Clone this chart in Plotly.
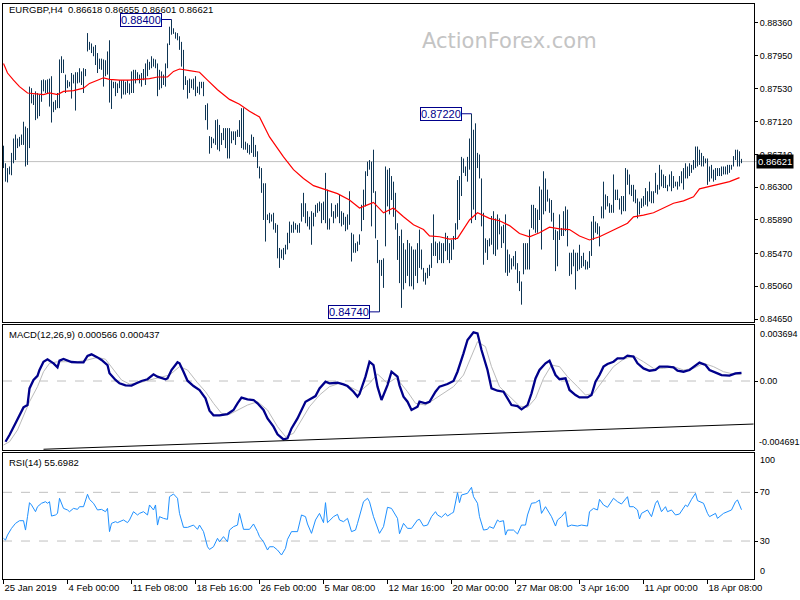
import plotly.graph_objects as go

# ---------------- data ----------------
symbol = "EURGBP,H4"
last_ohlc = [0.86618, 0.86655, 0.86601, 0.86621]

highs = [
    .8682, .8660, .8654, .8656, .8673, .8691, .8696, .8691, .8693, .8696,
    .8712, .8706, .8704, .8756, .8754, .8746, .8750, .8748, .8746, .8764,
    .8765, .8764, .8765, .8766, .8769, .8737, .8739, .8748, .8790, .8794,
    .8790, .8771, .8764, .8762, .8773, .8771, .8774, .8774, .8779, .8775,
    .8779, .8778, .8823, .8812, .8810, .8806, .8808, .8798, .8791, .8791,
    .8790, .8789, .8800, .8814, .8764, .8762, .8762, .8760, .8764, .8764,
    .8764, .8762, .8764, .8760, .8775, .8777, .8777, .8774, .8771, .8773,
    .8778, .8785, .8790, .8787, .8794, .8791, .8790, .8785, .8777, .8775,
    .8771, .8785, .8810, .8831, .8840, .8829, .8824, .8823, .8819, .8812,
    .8802, .8769, .8764, .8766, .8765, .8766, .8769, .8756, .8762, .8762,
    .8762, .8733, .8735, .8694, .8693, .8691, .8714, .8715, .8708, .8698,
    .8704, .8704, .8704, .8704, .8700, .8700, .8700, .8702, .8714, .8729,
    .8729, .8687, .8685, .8683, .8696, .8693, .8683, .8675, .8656, .8654,
    .8635, .8635, .8596, .8598, .8596, .8598, .8585, .8583, .8554, .8552,
    .8554, .8558, .8573, .8587, .8583, .8587, .8585, .8583, .8585, .8610,
    .8623, .8610, .8600, .8593, .8600, .8598, .8608, .8610, .8612, .8610,
    .8612, .8648, .8627, .8591, .8610, .8600, .8608, .8610, .8621, .8600,
    .8598, .8593, .8596, .8625, .8573, .8571, .8560, .8562, .8571, .8608,
    .8627, .8650, .8662, .8664, .8662, .8677, .8625, .8564, .8539, .8539,
    .8541, .8656, .8652, .8654, .8644, .8637, .8623, .8585, .8569, .8577,
    .8560, .8552, .8564, .8560, .8556, .8552, .8552, .8560, .8577, .8552,
    .8529, .8523, .8529, .8533, .8560, .8596, .8562, .8560, .8562, .8560,
    .8560, .8573, .8569, .8560, .8564, .8569, .8585, .8639, .8644, .8668,
    .8666, .8656, .8668, .8691, .8722, .8702, .8710, .8673, .8671, .8641,
    .8598, .8566, .8564, .8566, .8594, .8600, .8591, .8596, .8591, .8581,
    .8583, .8596, .8552, .8546, .8541, .8544, .8550, .8535, .8525, .8512,
    .8560, .8560, .8560, .8577, .8608, .8608, .8604, .8602, .8631, .8627,
    .8650, .8641, .8627, .8616, .8614, .8598, .8577, .8575, .8596, .8579,
    .8600, .8606, .8602, .8548, .8548, .8552, .8548, .8548, .8558, .8544,
    .8548, .8539, .8537, .8550, .8587, .8594, .8587, .8585, .8581, .8606,
    .8637, .8621, .8619, .8610, .8608, .8646, .8627, .8627, .8616, .8619,
    .8619, .8654, .8652, .8646, .8633, .8633, .8627, .8616, .8612, .8616,
    .8619, .8629, .8625, .8637, .8625, .8625, .8648, .8633, .8658, .8652,
    .8646, .8644, .8633, .8646, .8650, .8644, .8637, .8637, .8644, .8650,
    .8654, .8660, .8656, .8660, .8658, .8664, .8681, .8681, .8677, .8673,
    .8669, .8666, .8666, .8656, .8658, .8652, .8654, .8654, .8654, .8656,
    .8656, .8656, .8658, .8658, .8658, .8669, .8677, .8677, .8675, .86655,
]

lows = [
    .8654, .8637, .8636, .8646, .8645, .8660, .8664, .8679, .8681, .8683,
    .8683, .8656, .8658, .8679, .8735, .8733, .8714, .8716, .8719, .8737,
    .8750, .8748, .8748, .8731, .8711, .8724, .8727, .8729, .8729, .8773,
    .8773, .8748, .8754, .8756, .8741, .8760, .8726, .8760, .8761, .8758,
    .8748, .8769, .8800, .8802, .8798, .8794, .8783, .8773, .8778, .8777,
    .8756, .8769, .8771, .8736, .8728, .8754, .8744, .8748, .8754, .8741,
    .8746, .8746, .8748, .8746, .8748, .8748, .8760, .8764, .8760, .8756,
    .8764, .8758, .8769, .8777, .8779, .8781, .8779, .8744, .8752, .8754,
    .8758, .8756, .8779, .8808, .8821, .8822, .8816, .8814, .8802, .8781,
    .8752, .8758, .8741, .8748, .8754, .8752, .8744, .8748, .8746, .8754,
    .8744, .8714, .8702, .8672, .8679, .8685, .8683, .8677, .8675, .8683,
    .8689, .8679, .8666, .8666, .8685, .8689, .8683, .8693, .8693, .8679,
    .8677, .8677, .8673, .8671, .8673, .8668, .8668, .8654, .8641, .8623,
    .8589, .8562, .8589, .8585, .8587, .8577, .8573, .8541, .8529, .8541,
    .8539, .8546, .8552, .8560, .8573, .8573, .8577, .8573, .8573, .8587,
    .8593, .8585, .8581, .8577, .8558, .8581, .8593, .8598, .8600, .8585,
    .8589, .8585, .8577, .8577, .8593, .8585, .8591, .8593, .8585, .8581,
    .8583, .8575, .8577, .8583, .8537, .8548, .8548, .8550, .8558, .8575,
    .8589, .8606, .8644, .8652, .8581, .8623, .8566, .8535, .8474, .8519,
    .8504, .8556, .8606, .8596, .8614, .8593, .8577, .8539, .8510, .8479,
    .8502, .8510, .8519, .8506, .8506, .8502, .8519, .8510, .8529, .8527,
    .8512, .8508, .8516, .8519, .8529, .8544, .8544, .8535, .8539, .8535,
    .8535, .8550, .8539, .8535, .8539, .8552, .8564, .8577, .8589, .8619,
    .8648, .8644, .8637, .8652, .8585, .8602, .8589, .8654, .8641, .8581,
    .8533, .8548, .8539, .8556, .8558, .8546, .8544, .8552, .8571, .8554,
    .8560, .8523, .8519, .8523, .8527, .8531, .8527, .8510, .8500, .8483,
    .8521, .8527, .8527, .8527, .8579, .8577, .8573, .8573, .8589, .8552,
    .8596, .8600, .8612, .8598, .8587, .8564, .8525, .8531, .8564, .8569,
    .8569, .8575, .8556, .8519, .8521, .8531, .8502, .8525, .8527, .8529,
    .8531, .8527, .8527, .8529, .8544, .8564, .8573, .8571, .8556, .8591,
    .8591, .8602, .8606, .8598, .8598, .8598, .8614, .8614, .8602, .8596,
    .8600, .8600, .8633, .8621, .8619, .8612, .8610, .8591, .8596, .8604,
    .8606, .8608, .8606, .8612, .8610, .8610, .8623, .8621, .8627, .8631,
    .8629, .8629, .8625, .8631, .8625, .8629, .8631, .8627, .8631, .8635,
    .8627, .8641, .8641, .8644, .8648, .8652, .8654, .8656, .8658, .8656,
    .8656, .8660, .8633, .8637, .8641, .8637, .8639, .8644, .8644, .8644,
    .8646, .8646, .8646, .8648, .8652, .8656, .8664, .8656, .8656, .86601,
]

ma_idx = [0, 2, 5, 8, 12, 15, 20, 23, 27, 30, 35, 40, 43, 47, 50, 53, 58, 63, 68, 73,
          77, 82, 85, 88, 93, 98, 102, 107, 113, 118, 123, 128, 133, 140, 145, 150, 155,
          160, 167, 173, 178, 182, 185, 190, 195, 200, 205, 210, 213, 218, 223, 227, 230,
          233, 237, 240, 243, 248, 253, 258, 263, 268, 273, 278, 283, 288, 293, 298, 302,
          307, 312, 315, 320, 325, 330, 335, 340, 345, 348, 353, 358, 363, 368]
ma_val = [.8785, .8773, .8764, .8756, .8748, .8747, .8746, .8748, .8746, .8750, .8751,
          .8754, .8760, .8764, .8767, .8765, .8764, .8764, .8765, .8766, .8768, .8768,
          .8775, .8778, .8776, .8774, .8764, .8752, .8740, .8734, .8725, .8718, .8693,
          .8668, .8652, .8641, .8632, .8628, .8622, .8614, .8604, .8608, .8611, .8598,
          .8604, .8593, .8583, .8577, .8569, .8568, .8565, .8566, .8577, .8589, .8598,
          .8594, .8591, .8588, .8582, .8572, .8568, .8573, .8580, .8578, .8577, .8569,
          .8564, .8568, .8573, .8579, .8585, .8593, .8595, .8598, .8604, .8610, .8613,
          .8618, .8628, .8631, .8634, .8637, .8642]

macd_idx = [1, 3, 6, 8, 10, 12, 13, 15, 17, 18, 20, 22, 23, 25, 27, 28, 30, 32, 34, 37,
            40, 42, 44, 47, 49, 52, 53, 56, 58, 61, 64, 67, 69, 72, 75, 77, 81, 82, 84, 87,
            88, 90, 92, 95, 98, 101, 103, 105, 108, 112, 115, 117, 119, 122, 125, 127, 130,
            132, 135, 137, 140, 142, 144, 147, 149, 151, 153, 156, 158, 161, 163, 167, 170,
            172, 175, 177, 178, 181, 183, 185, 187, 189, 192, 194, 197, 198, 200, 202, 204,
            207, 208, 211, 213, 216, 218, 222, 225, 227, 230, 232, 235, 237, 239, 242, 244,
            247, 250, 252, 254, 257, 259, 262, 264, 266, 268, 271, 273, 276, 278, 281, 283,
            286, 288, 292, 294, 296, 298, 300, 302, 305, 307, 310, 312, 315, 317, 320, 323,
            326, 328, 332, 335, 337, 340, 343, 346, 348, 351, 353, 357, 359, 363, 366, 369]
macd_val = [-.00419, -.00373, -.00292, -.00235, -.00182, -.00166, -.00051, .00007, .00035,
            .00076, .00133, .00150, .00140, .00122, .00094, .00140, .00152, .00140, .00131,
            .00129, .00129, .00173, .00184, .00163, .00145, .00110, .00053, .00007, -.00016,
            -.00030, -.00032, -.00012, .00000, .00012, .00046, .00030, .00012, .00018, .00076,
            .00129, .00122, .00064, .00002, -.00035, -.00062, -.00120, -.00205, -.00237,
            -.00237, -.00228, -.00200, -.00154, -.00115, -.00127, -.00131, -.00154, -.00200,
            -.00258, -.00315, -.00368, -.00403, -.00396, -.00327, -.00258, -.00196, -.00143,
            -.00127, -.00104, -.00051, -.00005, -.00016, -.00012, -.00023, -.00035, -.00074,
            -.00108, -.00090, .00030, .00133, .00110, -.00039, -.00131, -.00028, .00064,
            .00030, -.00030, -.00108, -.00143, -.00200, -.00177, -.00143, -.00154, -.00143,
            -.00074, -.00039, -.00021, .00000, .00064, .00191, .00283, .00336, .00329, .00214,
            .00076, -.00051, -.00067, -.00074, -.00120, -.00166, -.00173, -.00196, -.00166,
            -.00085, .00018, .00076, .00122, .00140, .00041, .00012, .00018, -.00062, -.00097,
            -.00113, -.00113, -.00097, -.00005, .00041, .00099, .00117, .00133, .00156, .00156,
            .00175, .00168, .00122, .00087, .00071, .00076, .00099, .00099, .00094, .00071,
            .00064, .00076, .00110, .00127, .00110, .00076, .00053, .00041, .00037, .00053,
            .000566]

sig_idx = [0, 3, 7, 10, 13, 17, 20, 23, 27, 32, 37, 42, 47, 51, 55, 59, 63, 68, 73, 78, 83,
           88, 92, 97, 101, 105, 109, 113, 117, 122, 127, 132, 137, 141, 145, 149, 153, 158,
           163, 168, 173, 178, 183, 187, 192, 196, 198, 202, 206, 211, 215, 220, 225, 230,
           233, 237, 241, 244, 248, 253, 258, 262, 266, 270, 274, 278, 282, 287, 291, 295,
           300, 305, 310, 315, 320, 325, 330, 335, 340, 345, 350, 355, 360, 365, 369]
sig_val = [-.00442, -.00419, -.00338, -.00246, -.00143, -.00039, .00064, .00122, .00133,
           .00133, .00133, .00145, .00163, .00150, .00076, .00007, -.00021, -.00012, .00007,
           .00025, .00041, .00099, .00076, -.00012, -.00074, -.00154, -.00223, -.00230,
           -.00200, -.00166, -.00143, -.00200, -.00315, -.00384, -.00361, -.00269, -.00177,
           -.00097, -.00039, -.00016, -.00039, -.00074, -.00016, .00048, -.00016, .00018,
           -.00005, -.00074, -.00154, -.00166, -.00131, -.00085, -.00039, .00041, .00145,
           .00271, .00237, .00099, -.00039, -.00108, -.00173, -.00182, -.00120, .00018,
           .00110, .00099, .00030, -.00039, -.00097, -.00085, .00007, .00099, .00150, .00173,
           .00133, .00087, .00087, .00099, .00076, .00087, .00122, .00099, .00064, .00048,
           .000437]

rsi_idx = [0, 1, 2, 4, 6, 8, 10, 11, 12, 13, 14, 16, 17, 19, 21, 22, 23, 24, 26, 27, 28,
           30, 32, 33, 35, 37, 38, 40, 42, 43, 45, 47, 49, 51, 52, 53, 54, 56, 57, 60, 62,
           63, 65, 67, 68, 70, 72, 73, 75, 76, 77, 78, 80, 82, 83, 85, 87, 88, 90, 92, 95,
           97, 98, 100, 102, 103, 105, 107, 108, 110, 112, 113, 115, 117, 118, 120, 123,
           125, 127, 128, 130, 132, 133, 135, 137, 139, 141, 142, 144, 147, 149, 151, 152,
           154, 156, 158, 160, 161, 162, 165, 167, 168, 170, 172, 174, 176, 177, 180, 182,
           183, 185, 187, 188, 190, 192, 194, 197, 198, 200, 202, 204, 207, 208, 210, 212,
           214, 216, 217, 219, 221, 222, 224, 225, 227, 228, 229, 232, 234, 235, 237, 238,
           240, 242, 243, 245, 247, 248, 250, 251, 252, 255, 257, 259, 261, 262, 264, 266,
           268, 269, 271, 272, 274, 276, 277, 279, 281, 282, 284, 287, 289, 292, 293, 295,
           297, 298, 300, 302, 305, 307, 309, 312, 313, 315, 317, 318, 319, 322, 324, 326,
           327, 329, 331, 332, 334, 336, 338, 341, 342, 344, 346, 347, 350, 352, 353, 356,
           357, 360, 362, 364, 366, 367, 369]
rsi_val = [32.2, 30.8, 34.9, 40.4, 44.5, 46.7, 46.7, 39.0, 50.0, 61.5, 59.6, 54.1, 58.2,
           61.0, 62.3, 61.0, 62.3, 50.5, 51.4, 52.7, 65.1, 56.8, 55.5, 54.1, 56.8, 56.0,
           58.2, 58.2, 68.4, 64.2, 61.0, 55.5, 56.0, 54.1, 56.8, 37.7, 44.5, 45.9, 45.1,
           47.3, 45.1, 47.3, 54.1, 51.4, 52.7, 54.1, 51.4, 59.6, 55.5, 59.6, 43.1, 50.0,
           48.6, 47.8, 66.4, 68.6, 65.1, 52.7, 41.2, 41.2, 43.1, 39.6, 43.1, 37.7, 25.3,
           23.1, 25.3, 32.2, 29.4, 33.6, 29.4, 39.0, 41.8, 43.1, 52.7, 39.6, 39.6, 44.0,
           37.7, 33.6, 29.4, 22.6, 25.3, 25.3, 22.6, 18.5, 24.0, 31.4, 37.7, 37.7, 51.4,
           50.0, 44.0, 36.3, 47.3, 52.7, 45.1, 61.5, 45.1, 50.0, 51.9, 47.3, 45.9, 48.6,
           37.7, 39.0, 44.5, 62.3, 65.1, 62.3, 50.0, 40.4, 36.3, 41.8, 57.7, 56.8, 48.6,
           36.0, 44.5, 40.4, 40.4, 47.3, 47.8, 42.3, 43.1, 50.0, 54.1, 51.4, 49.5, 52.7,
           50.5, 52.7, 53.6, 69.7, 61.5, 67.8, 69.2, 74.1, 66.4, 61.0, 50.0, 39.0, 39.6,
           41.8, 40.4, 47.3, 45.9, 46.7, 34.9, 39.0, 39.0, 35.8, 43.1, 43.1, 51.4, 61.0,
           61.5, 63.7, 52.7, 58.2, 55.5, 50.0, 42.3, 47.3, 50.0, 54.1, 41.8, 43.1, 42.3,
           43.1, 42.3, 54.1, 56.8, 55.5, 64.2, 59.6, 57.7, 65.1, 62.3, 60.4, 66.4, 58.2,
           58.2, 55.5, 48.1, 52.7, 55.5, 50.0, 61.0, 63.2, 54.1, 58.2, 54.1, 55.5, 51.4,
           52.2, 59.6, 58.2, 64.2, 69.2, 63.2, 61.0, 52.7, 50.0, 52.7, 48.6, 52.7, 54.1,
           55.5, 62.3, 63.7, 55.6982]

trend_idx = [20, 375]
trend_val = [-0.00471, -0.00297]

price_ticks = [0.88360, 0.87950, 0.87530, 0.87120, 0.86710, 0.86300, 0.85890, 0.85470, 0.85060, 0.84650]
macd_top, macd_bottom = 0.003694, -0.004691
rsi_levels = [70, 30]
rsi_edges = [100, 0]
time_tick_idx = [0, 32, 64, 96, 128, 160, 192, 224, 256, 288, 320, 352]
time_labels = ["25 Jan 2019", "4 Feb 00:00", "11 Feb 08:00", "18 Feb 16:00", "26 Feb 00:00",
               "5 Mar 08:00", "12 Mar 16:00", "20 Mar 00:00", "27 Mar 08:00", "3 Apr 16:00",
               "11 Apr 00:00", "18 Apr 08:00"]
macd_name, macd_last, signal_last = "MACD(12,26,9)", 0.000566, 0.000437
rsi_name, rsi_last = "RSI(14)", 55.6982
watermark = "ActionForex.com"

# ---------------- styling ----------------
W, H = 800, 600
FONT = "Liberation Sans, Arial, sans-serif"
BAR_C = "#0E3554"
NAVY = "#00008B"
GRAY = "#C0C0C0"

def py(p):
    return 1 - p / H

X_DOM = [3 / W, 754 / W]
X_RANGE = [-0.25, 375.25]

fig = go.Figure()

# price bars (high-low)
bx, by = [], []
for i, (h, l) in enumerate(zip(highs, lows)):
    bx += [i, i, None]
    by += [l, h, None]
fig.add_trace(go.Scatter(x=bx, y=by, mode="lines", line=dict(color=BAR_C, width=1),
                         xaxis="x", yaxis="y", hoverinfo="skip"))
fig.add_trace(go.Scatter(x=ma_idx, y=ma_val, mode="lines", line=dict(color="#FF0000", width=1.2),
                         xaxis="x", yaxis="y"))

# MACD
fig.add_trace(go.Scatter(x=sig_idx, y=sig_val, mode="lines", line=dict(color="#BBBBBB", width=1),
                         xaxis="x2", yaxis="y2"))
fig.add_trace(go.Scatter(x=macd_idx, y=macd_val, mode="lines", line=dict(color=NAVY, width=2.3),
                         xaxis="x2", yaxis="y2"))
fig.add_trace(go.Scatter(x=trend_idx, y=trend_val, mode="lines", line=dict(color="black", width=1),
                         xaxis="x2", yaxis="y2"))

# RSI
fig.add_trace(go.Scatter(x=rsi_idx, y=rsi_val, mode="lines", line=dict(color="#1E90FF", width=1),
                         xaxis="x3", yaxis="y3"))

axis_common = dict(showgrid=False, zeroline=False, showline=True, mirror=True,
                   linecolor="black", linewidth=1, automargin=False)
tickfont = dict(family=FONT, size=9, color="black")

fig.update_layout(
    width=W, height=H, margin=dict(l=0, r=0, t=0, b=0, autoexpand=False),
    paper_bgcolor="white", plot_bgcolor="white", showlegend=False,
    xaxis=dict(domain=X_DOM, range=X_RANGE, anchor="y", showticklabels=False, ticks="", **axis_common),
    xaxis2=dict(domain=X_DOM, range=X_RANGE, anchor="y2", matches="x", showticklabels=False, ticks="", **axis_common),
    xaxis3=dict(domain=X_DOM, range=X_RANGE, anchor="y3", matches="x", tickvals=time_tick_idx,
                ticktext=time_labels, ticks="outside", ticklen=4, tickcolor="black", tickangle=0,
                ticklabelposition="outside right", tickfont=dict(family=FONT, size=9.5, color="black"),
                **axis_common),
    yaxis=dict(domain=[py(322), py(4)], range=[0.84613, 0.88594], side="right", anchor="x",
               tickvals=price_ticks, ticktext=[f"{v:.5f}" for v in price_ticks],
               ticks="outside", ticklen=3, tickcolor="black", tickfont=tickfont, **axis_common),
    yaxis2=dict(domain=[py(450), py(325)], range=[-0.004761, 0.003864], side="right", anchor="x2",
                tickvals=[0], ticktext=["0.00"], ticks="outside", ticklen=3, tickcolor="black",
                tickfont=tickfont, **axis_common),
    yaxis3=dict(domain=[py(579), py(453)], range=[-1.2, 102.3], side="right", anchor="x3",
                tickvals=rsi_levels, ticktext=[str(v) for v in rsi_levels], ticks="outside",
                ticklen=3, tickcolor="black", tickfont=tickfont, **axis_common),
)

shapes = [
    dict(type="line", xref="paper", x0=X_DOM[0], x1=757 / W, yref="y", y0=last_ohlc[3], y1=last_ohlc[3],
         line=dict(color=GRAY, width=1), layer="below"),
    dict(type="line", xref="paper", x0=X_DOM[0], x1=X_DOM[1], yref="y2", y0=0, y1=0,
         line=dict(color=GRAY, width=1, dash="dash"), layer="below"),
]
for lv in rsi_levels:
    shapes.append(dict(type="line", xref="paper", x0=X_DOM[0], x1=X_DOM[1], yref="y3", y0=lv, y1=lv,
                       line=dict(color=GRAY, width=1, dash="dash"), layer="below"))
fig.update_layout(shapes=shapes)

ann = []
# header texts
hdr = symbol + "\u00a0\u00a0" + " ".join(f"{v:.5f}" for v in last_ohlc)
ann.append(dict(text=hdr, xref="paper", yref="paper", x=7 / W, y=py(9), xanchor="left", yanchor="middle",
                showarrow=False, font=dict(family=FONT, size=9.5, color="black")))
ann.append(dict(text=f"{macd_name} {macd_last:.6f} {signal_last:.6f}", xref="paper", yref="paper",
                x=7 / W, y=py(334), xanchor="left", yanchor="middle", showarrow=False,
                font=dict(family=FONT, size=9.5, color="black")))
ann.append(dict(text=f"{rsi_name} {rsi_last:.4f}", xref="paper", yref="paper",
                x=7 / W, y=py(463), xanchor="left", yanchor="middle", showarrow=False,
                font=dict(family=FONT, size=9.5, color="black")))
# watermark
ann.append(dict(text=watermark, xref="paper", yref="paper", x=509 / W, y=py(41), xanchor="center",
                yanchor="middle", showarrow=False,
                font=dict(family="DejaVu Sans, sans-serif", size=21, color="#C4C4C4")))
# edge labels of MACD scale (kept inside the panel like the terminal does)
ann.append(dict(text=f"{macd_top:.6f}", xref="paper", yref="y2", x=758 / W, y=macd_top,
                xanchor="left", yanchor="top", showarrow=False, font=tickfont))
ann.append(dict(text=f"{macd_bottom:.6f}", xref="paper", yref="y2", x=757 / W, y=macd_bottom,
                xanchor="left", yanchor="bottom", showarrow=False, font=tickfont))
# edge labels of RSI scale
ann.append(dict(text=str(rsi_edges[0]), xref="paper", yref="y3 domain", x=758 / W, y=1,
                xanchor="left", yanchor="top", showarrow=False, font=tickfont))
ann.append(dict(text=str(rsi_edges[1]), xref="paper", yref="y3 domain", x=758 / W, y=0.01,
                xanchor="left", yanchor="bottom", showarrow=False, font=tickfont))
# current price label
ann.append(dict(text=f"{last_ohlc[3]:.5f}", xref="paper", yref="y", x=756 / W, y=last_ohlc[3],
                xanchor="left", yanchor="middle", showarrow=False, bgcolor="black", borderpad=1,
                font=dict(family=FONT, size=9.5, color="white")))
# extreme labels
i_hi = highs.index(max(highs))
seg = highs[200:300]
i_mid = 200 + seg.index(max(seg))
i_lo = lows.index(min(lows))
for idx, val in [(i_hi, highs[i_hi]), (i_mid, highs[i_mid]), (i_lo, lows[i_lo])]:
    ann.append(dict(text=f"{val:.5f}", x=idx, y=val, xref="x", yref="y", showarrow=True,
                    ax=-31, ay=0, axref="pixel", ayref="pixel", arrowhead=0, arrowwidth=1,
                    arrowcolor=NAVY, standoff=0, bordercolor=NAVY, borderwidth=1, borderpad=0,
                    bgcolor="white", font=dict(family=FONT, size=11, color=NAVY)))
fig.update_layout(annotations=ann)

fig.write_html("out.html", config={"displayModeBar": False},
               post_script="document.body.style.margin='0';document.body.style.padding='0';")
